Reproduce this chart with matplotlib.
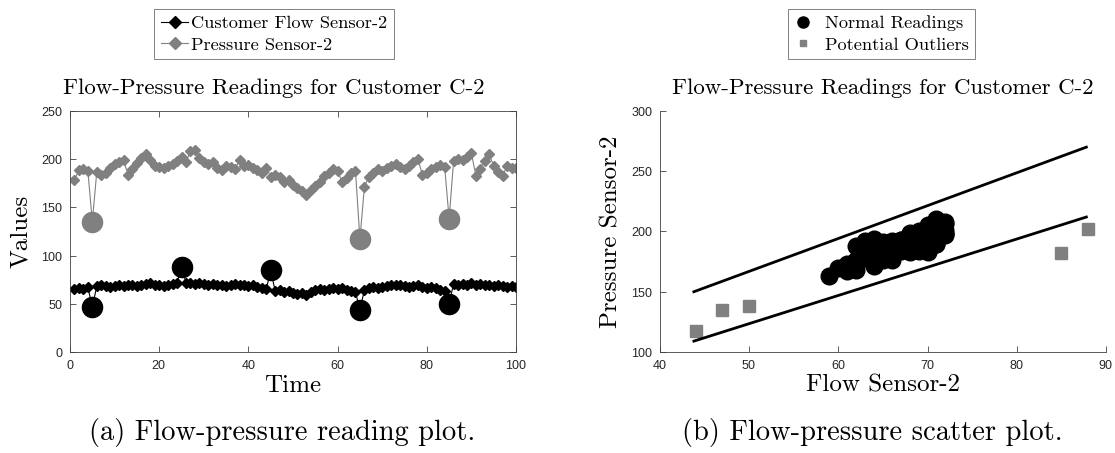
import numpy as np
import matplotlib
matplotlib.use("Agg")
import matplotlib.pyplot as plt
from matplotlib import font_manager

# time index and readings for customer C-2
time = np.arange(1, 101)
flow = np.array([
    65, 66, 65, 67, 47, 68, 69, 68, 67, 68,
    69, 68, 70, 69, 68, 70, 71, 72, 70, 69,
    68, 69, 71, 72, 88, 72, 72, 71, 72, 71,
    70, 71, 70, 69, 68, 70, 71, 69, 70, 68,
    69, 67, 66, 65, 85, 63, 64, 62, 63, 61,
    60, 61, 59, 62, 64, 65, 64, 65, 66, 65,
    66, 64, 63, 62, 44, 64, 66, 67, 66, 67,
    68, 69, 70, 69, 68, 67, 68, 69, 67, 66,
    67, 66, 64, 63, 50, 71, 70, 71, 70, 72,
    70, 71, 69, 70, 68, 69, 68, 67, 68, 67,
])
pressure = np.array([
    178, 189, 190, 188, 135, 187, 184, 186, 191, 195,
    197, 199, 184, 190, 196, 201, 205, 199, 193, 192,
    191, 193, 195, 198, 202, 197, 208, 210, 201, 197,
    195, 197, 191, 189, 193, 192, 190, 199, 193, 194,
    191, 189, 186, 191, 182, 184, 182, 176, 178, 173,
    170, 167, 163, 168, 172, 176, 183, 186, 190, 188,
    176, 180, 186, 188, 117, 171, 182, 186, 190, 188,
    191, 193, 195, 192, 190, 193, 197, 200, 184, 186,
    190, 192, 194, 192, 138, 198, 200, 199, 202, 206,
    183, 190, 198, 205, 193, 187, 183, 193, 191, 191,
])
flow_outlier_t = [5, 25, 45, 65, 85]
pressure_outlier_t = [5, 65, 85]

# decision band in the scatter plot
band_x = [43.8, 87.8]
band_upper = [150, 270]
band_lower = [109, 212]

gray = '#808080'
serif = ['cmr10', 'DejaVu Serif']
names = {f.name for f in font_manager.fontManager.ttflist}
tickfont = 'Liberation Sans Narrow' if 'Liberation Sans Narrow' in names else 'Liberation Sans'
plt.rcParams['axes.formatter.use_mathtext'] = True

fig = plt.figure(figsize=(11.15, 4.53), dpi=100)
ax1 = fig.add_axes([0.0628, 0.223, 0.4, 0.532])
ax2 = fig.add_axes([0.5919, 0.223, 0.4, 0.532])

# (a) time series
fi = np.array(flow_outlier_t) - 1
pi = np.array(pressure_outlier_t) - 1
l1, = ax1.plot(time, flow, '-D', color='k', ms=5, lw=0.8, label='Customer Flow Sensor-2')
l2, = ax1.plot(time, pressure, '-D', color=gray, ms=5, lw=0.8, label='Pressure Sensor-2')
ax1.plot(time[fi], flow[fi], 'o', color='k', ms=14.5)
ax1.plot(time[pi], pressure[pi], 'o', color=gray, ms=14.5)
ax1.set_xlim(0, 100)
ax1.set_ylim(0, 250)
ax1.set_xticks(np.arange(0, 101, 20))
ax1.set_yticks(np.arange(0, 251, 50))
ax1.tick_params(direction='in', top=True, right=True, length=4, width=0.6,
                color='#404040', labelsize=9, pad=5)
ax1.set_xlabel('Time', family=serif, fontsize=18, labelpad=2)
ax1.set_ylabel('Values', family=serif, fontsize=18, labelpad=6)

# (b) scatter
mask = np.ones(len(time), dtype=bool)
mask[fi] = False
s1, = ax2.plot(flow[mask], pressure[mask], 'o', color='k', ms=12, label='Normal Readings')
s2, = ax2.plot(flow[~mask], pressure[~mask], 's', color=gray, ms=9, label='Potential Outliers')
ax2.plot(band_x, band_upper, color='k', lw=2)
ax2.plot(band_x, band_lower, color='k', lw=2)
ax2.set_xlim(40, 90)
ax2.set_ylim(100, 300)
ax2.set_xticks(np.arange(40, 91, 10))
ax2.set_yticks(np.arange(100, 301, 50))
for s in ['top', 'right']:
    ax2.spines[s].set_visible(False)
ax2.tick_params(direction='in', length=4, width=0.6, color='#404040',
                labelsize=9, pad=5)
ax2.set_xlabel('Flow Sensor-2', family=serif, fontsize=18, labelpad=2)
ax2.set_ylabel('Pressure Sensor-2', family=serif, fontsize=18, labelpad=6)

for ax in (ax1, ax2):
    for s in ax.spines.values():
        s.set_linewidth(0.6)
        s.set_color('#404040')
    for lab in ax.get_xticklabels() + ax.get_yticklabels():
        lab.set_family(tickfont)
        lab.set_color('#262626')

fig.text(0.2457, 0.806, 'Flow-Pressure Readings for Customer C-2', family=serif,
         fontsize=16.5, ha='center', va='center')
fig.text(0.7915, 0.806, 'Flow-Pressure Readings for Customer C-2', family=serif,
         fontsize=16.5, ha='center', va='center')

leg_kw = dict(prop={'family': serif, 'size': 13.2}, fancybox=False, edgecolor=gray,
              framealpha=1, borderpad=0.35, labelspacing=0.3, borderaxespad=0)
lg1 = fig.legend(handles=[l1, l2], loc='upper center', bbox_to_anchor=(0.2457, 0.98),
                 handlelength=1.5, handletextpad=0.15, **leg_kw)
for h in lg1.legend_handles:
    h.set_markersize(6)
lg2 = fig.legend(handles=[s1, s2], loc='upper center', bbox_to_anchor=(0.7906, 0.98),
                 handlelength=1.0, handletextpad=0.7, **leg_kw)
lg2.legend_handles[0].set_markersize(8)
lg2.legend_handles[1].set_markersize(5)
lg1.get_frame().set_linewidth(0.7)
lg2.get_frame().set_linewidth(0.7)

fig.text(0.253, 0.046, '(a) Flow-pressure reading plot.', family=serif,
         fontsize=20.5, ha='center', va='center')
fig.text(0.782, 0.046, '(b) Flow-pressure scatter plot.', family=serif,
         fontsize=20.5, ha='center', va='center')

fig.savefig('out.png', dpi=100)
